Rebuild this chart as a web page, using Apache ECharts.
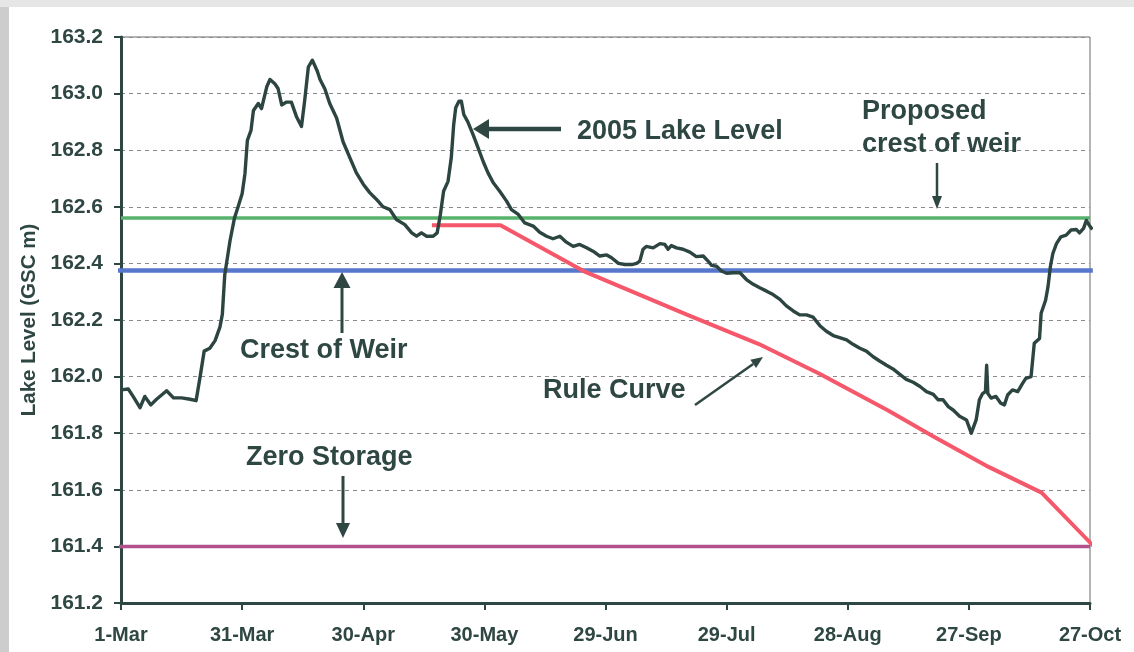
<!DOCTYPE html>
<html>
<head>
<meta charset="utf-8">
<title>2005 Lake Level</title>
<script src="https://cdn.jsdelivr.net/npm/echarts@6/dist/echarts.min.js"></script>
<style>
  html,body{margin:0;padding:0;background:#fff;}
  #main{width:1134px;height:652px;}
</style>
</head>
<body>
<div id="main"></div>
<script>
// x axis = days since 1-Mar, ticks every 30 days
var xTickLabels = ['1-Mar','31-Mar','30-Apr','30-May','29-Jun','29-Jul','28-Aug','27-Sep','27-Oct'];
var yTicks = [161.2, 163.2, 0.2]; // min, max, step

// fixed levels (GSC m)
var crestOfWeir = 162.375;
var proposedCrest = 162.56;
var zeroStorage = 161.40;

// rule curve, [day, level]
var ruleCurve = [[77,162.535],[94,162.535],[115,162.37],[140,162.22],[158,162.115],[173,162.01],
  [190,161.88],[201,161.79],[215,161.68],[228,161.59],[243,161.37]];

// 2005 lake level, [day, level]
var lakeLevel2005 = [
  [0,161.953],[1.8,161.956],[3.0,161.93],[4.7,161.89],[5.9,161.93],[7.4,161.90],[8.8,161.92],[11.3,161.95],
  [13.0,161.925],[15.0,161.925],[17.1,161.92],[18.6,161.915],[19.6,162.0],[20.6,162.09],[22.0,162.10],
  [23.3,162.127],[24.5,162.175],[25.1,162.22],[25.7,162.36],[27.0,162.48],[28.1,162.56],[29.0,162.60],
  [30.0,162.646],[30.7,162.717],[31.3,162.835],[32.2,162.87],[32.8,162.94],[34.0,162.965],[34.8,162.947],
  [36.1,163.024],[36.9,163.05],[38.1,163.035],[38.9,163.018],[39.8,162.96],[41.0,162.97],[42.2,162.97],
  [43.5,162.917],[44.7,162.884],[45.5,162.976],[46.4,163.094],[47.4,163.118],[48.6,163.08],[49.3,163.05],
  [50.5,163.016],[51.7,162.965],[53.4,162.914],[55.0,162.83],[56.7,162.773],[58.3,162.72],[60.0,162.68],
  [61.6,162.65],[63.3,162.626],[64.9,162.60],[66.6,162.59],[68.2,162.555],[70.3,162.537],[72.0,162.508],
  [73.2,162.496],[74.4,162.508],[75.7,162.496],[77.3,162.496],[78.3,162.508],[79.1,162.573],[79.9,162.655],
  [81.0,162.69],[81.8,162.773],[82.4,162.89],[82.9,162.95],[83.7,162.973],[84.3,162.973],[84.9,162.926],
  [85.9,162.90],[87.2,162.855],[88.4,162.81],[89.7,162.76],[90.9,162.72],[92.2,162.685],[93.8,162.655],
  [95.5,162.62],[96.7,162.59],[98.4,162.573],[100.0,162.543],[102.1,162.532],[103.7,162.51],[105.4,162.496],
  [107.0,162.487],[108.7,162.496],[110.3,162.475],[112.0,162.46],[113.6,162.467],[115.3,162.455],[116.9,162.443],
  [118.6,162.426],[120.3,162.43],[121.5,162.42],[123.2,162.40],[124.8,162.396],[126.5,162.396],[127.7,162.40],
  [128.5,162.408],[129.3,162.45],[130.1,162.46],[131.8,162.455],[133.5,162.47],[134.7,162.467],[135.5,162.45],
  [136.3,162.463],[137.6,162.455],[139.2,162.45],[140.9,162.44],[142.5,162.424],[144.2,162.426],[145.4,162.408],
  [146.3,162.393],[147.5,162.39],[148.7,162.373],[150.0,162.365],[151.6,162.367],[153.3,162.367],[154.9,162.343],
  [156.6,162.326],[158.2,162.314],[159.9,162.302],[161.5,162.29],[163.2,162.273],[164.8,162.25],[166.5,162.232],
  [168.1,162.218],[169.8,162.218],[171.4,162.21],[173.1,162.18],[174.7,162.16],[176.4,162.145],[178.0,162.138],
  [179.7,162.13],[181.3,162.114],[183.0,162.10],[184.6,162.09],[186.3,162.07],[187.9,162.055],[189.6,162.04],
  [191.2,162.027],[192.9,162.008],[194.5,161.99],[196.2,161.98],[197.9,161.965],[199.5,161.947],[201.2,161.937],
  [202.4,161.918],[203.6,161.918],[204.9,161.894],[206.1,161.882],[207.7,161.86],[209.4,161.847],[210.6,161.80],
  [211.8,161.847],[212.6,161.918],[213.4,161.94],[214.1,161.947],[214.4,162.04],[214.7,161.94],[215.5,161.924],
  [216.7,161.93],[217.9,161.906],[218.8,161.9],[219.6,161.935],[220.8,161.953],[222.1,161.947],[223.3,161.976],
  [224.1,161.994],[225.4,162.0],[226.2,162.118],[227.5,162.135],[227.9,162.224],[229.0,162.27],[229.6,162.318],
  [230.2,162.39],[230.8,162.435],[231.7,162.47],[232.8,162.494],[234.1,162.5],[235.3,162.518],[236.6,162.52],
  [237.4,162.508],[238.4,162.524],[239.1,162.552],[239.8,162.535],[240.6,162.52]
];

var ink = '#2f4743';
var font = 'bold 27px "Liberation Sans", Arial, sans-serif';

function arrow(x1, y1, x2, y2, w, head, headW) {
  var dx = x2 - x1, dy = y2 - y1, len = Math.sqrt(dx * dx + dy * dy);
  var ux = dx / len, uy = dy / len;
  var bx = x2 - ux * head, by = y2 - uy * head;
  var px = -uy * headW / 2, py = ux * headW / 2;
  return [
    {type: 'line', z: 100, shape: {x1: x1, y1: y1, x2: bx, y2: by}, style: {stroke: ink, lineWidth: w}},
    {type: 'polygon', z: 100, shape: {points: [[x2, y2], [bx + px, by + py], [bx - px, by - py]]}, style: {fill: ink}}
  ];
}
function label(text, x, y) {
  return {type: 'text', z: 100, x: x, y: y,
    style: {text: text, font: font, fill: ink, align: 'left', verticalAlign: 'middle'}};
}
function flat(v, a, b) { return [[a, v], [b, v]]; }

var myChart = echarts.init(document.getElementById('main'));

var graphics = [
  {type: 'rect', z: -10, shape: {x: 0, y: 0, width: 9, height: 652}, style: {fill: '#cdcdcd'}},
  {type: 'rect', z: -10, shape: {x: 0, y: 0, width: 1134, height: 7}, style: {fill: '#e6e6e6'}},
  label('2005 Lake Level', 577, 132),
  label('Proposed', 862, 112),
  label('crest of weir', 862, 145),
  label('Crest of Weir', 240, 351),
  label('Rule Curve', 543, 391),
  label('Zero Storage', 246, 458)
];
graphics = graphics
  .concat(arrow(561, 129, 473, 129, 4.5, 16, 20))
  .concat(arrow(937, 163, 937, 209, 2.5, 13, 10))
  .concat(arrow(342, 333, 342, 272, 3, 16, 17))
  .concat(arrow(343, 476, 343, 538, 3, 15, 14))
  .concat(arrow(695, 405, 763, 357, 2.5, 12, 10));

var option = {
  animation: false,
  backgroundColor: '#fff',
  grid: {left: 121, right: 44, top: 37, bottom: 49, show: true, borderColor: '#6b6b6b', borderWidth: 1},
  xAxis: {
    type: 'value', min: 0, max: 240, interval: 30,
    axisLine: {show: true, lineStyle: {color: ink, width: 3}},
    axisTick: {show: true, length: 7, lineStyle: {color: ink, width: 2}},
    splitLine: {show: false},
    axisLabel: {
      margin: 22, color: ink, fontWeight: 'bold', fontSize: 20, fontFamily: 'Liberation Sans',
      formatter: function (v) { return xTickLabels[Math.round(v / 30)]; }
    }
  },
  yAxis: {
    type: 'value', min: yTicks[0], max: yTicks[1], interval: yTicks[2],
    name: 'Lake Level (GSC m)', nameLocation: 'middle', nameGap: 80,
    nameTextStyle: {color: ink, fontSize: 20.5, fontWeight: 'bold', fontFamily: 'Liberation Sans'},
    axisLine: {show: true, lineStyle: {color: ink, width: 3}},
    axisTick: {show: true, length: 7, lineStyle: {color: ink, width: 2}},
    splitLine: {show: true, lineStyle: {color: '#8a8a8a', type: [4, 4], width: 1}},
    axisLabel: {
      margin: 18, color: ink, fontWeight: 'bold', fontSize: 21, fontFamily: 'Liberation Sans',
      formatter: function (v) { return v.toFixed(1); }
    }
  },
  series: [
    {type: 'line', name: 'Zero Storage', data: flat(zeroStorage, -1.5, 240), showSymbol: false, clip: false,
      lineStyle: {color: '#b5508e', width: 3.5}},
    {type: 'line', name: 'Crest of Weir', data: flat(crestOfWeir, -1.7, 240.7), showSymbol: false, clip: false,
      lineStyle: {color: '#5677cc', width: 4.5}},
    {type: 'line', name: 'Proposed crest of weir', data: flat(proposedCrest, 0, 240), showSymbol: false, clip: false,
      lineStyle: {color: '#57b26c', width: 3.5}},
    {type: 'line', name: 'Rule Curve', data: ruleCurve, showSymbol: false, clip: false,
      lineStyle: {color: '#f4586a', width: 4}},
    {type: 'line', name: '2005 Lake Level', data: lakeLevel2005, showSymbol: false, clip: false,
      lineStyle: {color: '#2d4541', width: 3.4, join: 'round'}}
  ],
  graphic: graphics
};
myChart.setOption(option);
</script>
</body>
</html>
